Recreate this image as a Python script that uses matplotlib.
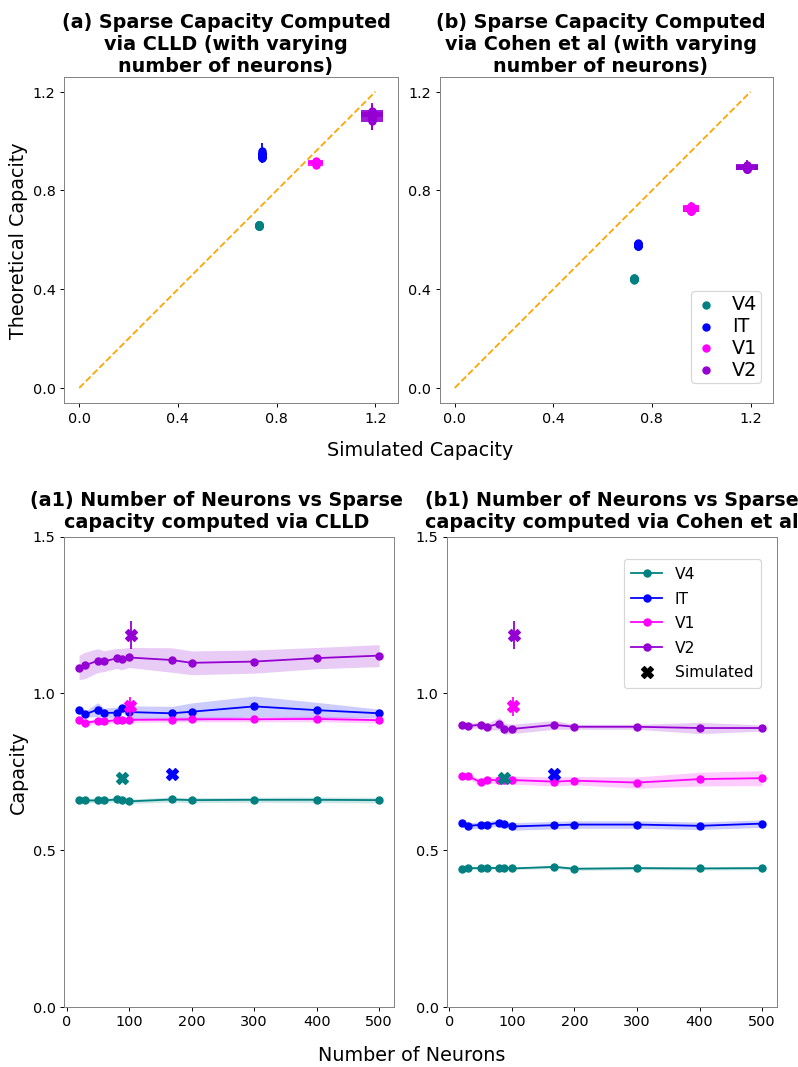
import matplotlib.pyplot as plt
from matplotlib.lines import Line2D

plt.rcParams["font.family"] = "DejaVu Sans"

REGIONS = ["V4", "IT", "V1", "V2"]
COLORS = ["teal", "blue", "magenta", "darkviolet"]

# neuron counts used for the subsampled capacity estimates
N_NEURONS = [20, 30, 50, 60, 80, 88, 100, 168, 200, 300, 400, 500]

# simulated capacity per region, at the full recording size
SIM_N = [88, 168, 102, 103]
SIM_CAP = [0.728, 0.742, 0.958, 1.185]
SIM_ERR = [0.004, 0.004, 0.031, 0.045]

# theoretical capacity via CLLD (mean, std) per neuron count
CLLD_V4 = [0.658, 0.658, 0.658, 0.658, 0.661, 0.659, 0.655, 0.661, 0.659, 0.660, 0.660, 0.659]
CLLD_V4_SD = [0.007, 0.007, 0.007, 0.007, 0.007, 0.007, 0.007, 0.008, 0.008, 0.008, 0.009, 0.009]
CLLD_IT = [0.947, 0.933, 0.948, 0.937, 0.938, 0.952, 0.940, 0.936, 0.941, 0.958, 0.946, 0.936]
CLLD_IT_SD = [0.012, 0.010, 0.022, 0.015, 0.018, 0.012, 0.020, 0.022, 0.028, 0.033, 0.025, 0.013]
CLLD_V1 = [0.913, 0.905, 0.912, 0.910, 0.914, 0.913, 0.915, 0.916, 0.917, 0.917, 0.918, 0.914]
CLLD_V1_SD = [0.008, 0.008, 0.008, 0.008, 0.008, 0.008, 0.008, 0.008, 0.008, 0.008, 0.009, 0.009]
CLLD_V2 = [1.082, 1.089, 1.104, 1.102, 1.111, 1.109, 1.114, 1.106, 1.097, 1.101, 1.112, 1.120]
CLLD_V2_SD = [0.039, 0.042, 0.038, 0.033, 0.032, 0.034, 0.032, 0.039, 0.038, 0.037, 0.034, 0.035]

# theoretical capacity via Cohen et al (mean, std) per neuron count
COHEN_V4 = [0.438, 0.442, 0.442, 0.442, 0.443, 0.444, 0.441, 0.446, 0.440, 0.442, 0.441, 0.442]
COHEN_V4_SD = [0.004, 0.004, 0.004, 0.004, 0.004, 0.004, 0.004, 0.005, 0.005, 0.005, 0.005, 0.005]
COHEN_IT = [0.585, 0.577, 0.580, 0.581, 0.587, 0.583, 0.575, 0.579, 0.581, 0.581, 0.577, 0.584]
COHEN_IT_SD = [0.008, 0.010, 0.010, 0.010, 0.010, 0.010, 0.012, 0.012, 0.012, 0.012, 0.012, 0.012]
COHEN_V1 = [0.736, 0.735, 0.716, 0.724, 0.722, 0.722, 0.723, 0.718, 0.721, 0.715, 0.726, 0.729]
COHEN_V1_SD = [0.006, 0.008, 0.010, 0.010, 0.012, 0.012, 0.013, 0.014, 0.013, 0.018, 0.022, 0.024]
COHEN_V2 = [0.899, 0.896, 0.899, 0.893, 0.903, 0.887, 0.886, 0.899, 0.893, 0.893, 0.889, 0.889]
COHEN_V2_SD = [0.007, 0.008, 0.010, 0.010, 0.020, 0.018, 0.015, 0.014, 0.008, 0.008, 0.018, 0.010]

CLLD = [(CLLD_V4, CLLD_V4_SD), (CLLD_IT, CLLD_IT_SD), (CLLD_V1, CLLD_V1_SD), (CLLD_V2, CLLD_V2_SD)]
COHEN = [(COHEN_V4, COHEN_V4_SD), (COHEN_IT, COHEN_IT_SD), (COHEN_V1, COHEN_V1_SD), (COHEN_V2, COHEN_V2_SD)]

TITLES = [
    "(a) Sparse Capacity Computed\nvia CLLD (with varying\nnumber of neurons)",
    "(b) Sparse Capacity Computed\nvia Cohen et al (with varying\nnumber of neurons)",
    "(a1) Number of Neurons vs Sparse\ncapacity computed via CLLD",
    "(b1) Number of Neurons vs Sparse\ncapacity computed via Cohen et al",
]
TITLE_X = [0.485, 0.483, 0.462, 0.498]
TITLE_PAD = [4.5, 4.5, 7.5, 7.5]

DPI = 86
fig = plt.figure(figsize=(798.4 / DPI, 1067.4 / DPI), dpi=DPI)
W, H = 798, 1067


def axes_px(x0, x1, ytop, ybot):
    return fig.add_axes([x0 / W, 1 - ybot / H, (x1 - x0) / W, (ybot - ytop) / H])


ax_a = axes_px(64, 397.7, 77.3, 403)
ax_b = axes_px(439.3, 772.7, 77.3, 403)
ax_a1 = axes_px(64, 394, 536.7, 1006.7)
ax_b1 = axes_px(446.7, 776.7, 536.7, 1006.7)

for ax in (ax_a, ax_b, ax_a1, ax_b1):
    for sp in ax.spines.values():
        sp.set_color("gray")
    ax.tick_params(labelsize=12)

# simulated vs theoretical scatter
for ax, theory in ((ax_a, CLLD), (ax_b, COHEN)):
    for r, name in enumerate(REGIONS):
        mean, sd = theory[r]
        xs = [SIM_CAP[r]] * len(mean)
        ax.scatter(xs, mean, color=COLORS[r], label=name, zorder=3)
        ax.errorbar(xs, mean, xerr=SIM_ERR[r], yerr=sd, fmt="none",
                    ecolor=COLORS[r], zorder=2)
    ax.plot([0, 1.2], [0, 1.2], "--", color="orange")
    ax.set_xticks([0.0, 0.4, 0.8, 1.2])
    ax.set_yticks([0.0, 0.4, 0.8, 1.2])

ax_a.set_ylabel("Theoretical Capacity", fontsize=16)
ax_b.legend(loc="lower right", bbox_to_anchor=(0.964, 0.06), borderaxespad=0,
            fontsize=16, scatterpoints=1, handlelength=1.15, handletextpad=0.8,
            borderpad=0.2, labelspacing=0.15)

# capacity as a function of the number of neurons
for ax, theory in ((ax_a1, CLLD), (ax_b1, COHEN)):
    for r, name in enumerate(REGIONS):
        mean, sd = theory[r]
        lo = [m - s for m, s in zip(mean, sd)]
        hi = [m + s for m, s in zip(mean, sd)]
        ax.plot(N_NEURONS, mean, "-o", color=COLORS[r], label=name)
        ax.fill_between(N_NEURONS, lo, hi, color=COLORS[r], alpha=0.2, linewidth=0)
    for r in range(len(REGIONS)):
        ax.errorbar(SIM_N[r], SIM_CAP[r], yerr=SIM_ERR[r], fmt="X",
                    color=COLORS[r], markersize=9.5, zorder=4)
    ax.set_ylim(0, 1.5)
    ax.set_yticks([0.0, 0.5, 1.0, 1.5])

ax_a1.set_ylabel("Capacity", fontsize=16)
handles, labels = ax_b1.get_legend_handles_labels()
handles.append(Line2D([], [], marker="X", color="black", linestyle="none", markersize=9.5))
labels.append("Simulated")
ax_b1.legend(handles, labels, loc="upper right", bbox_to_anchor=(0.9515, 0.9526),
             borderaxespad=0, fontsize=13, borderpad=0.5, labelspacing=0.62)

for ax, title, tx, pad in zip((ax_a, ax_b, ax_a1, ax_b1), TITLES, TITLE_X, TITLE_PAD):
    ax.set_title(title, fontsize=16, fontweight="bold", x=tx, pad=pad)

fig.text(0.526, 1 - 450 / H, "Simulated Capacity", ha="center", va="center", fontsize=16)
fig.text(0.516, 1 - 1055 / H, "Number of Neurons", ha="center", va="center", fontsize=16)

fig.savefig("out.png", dpi=DPI)
